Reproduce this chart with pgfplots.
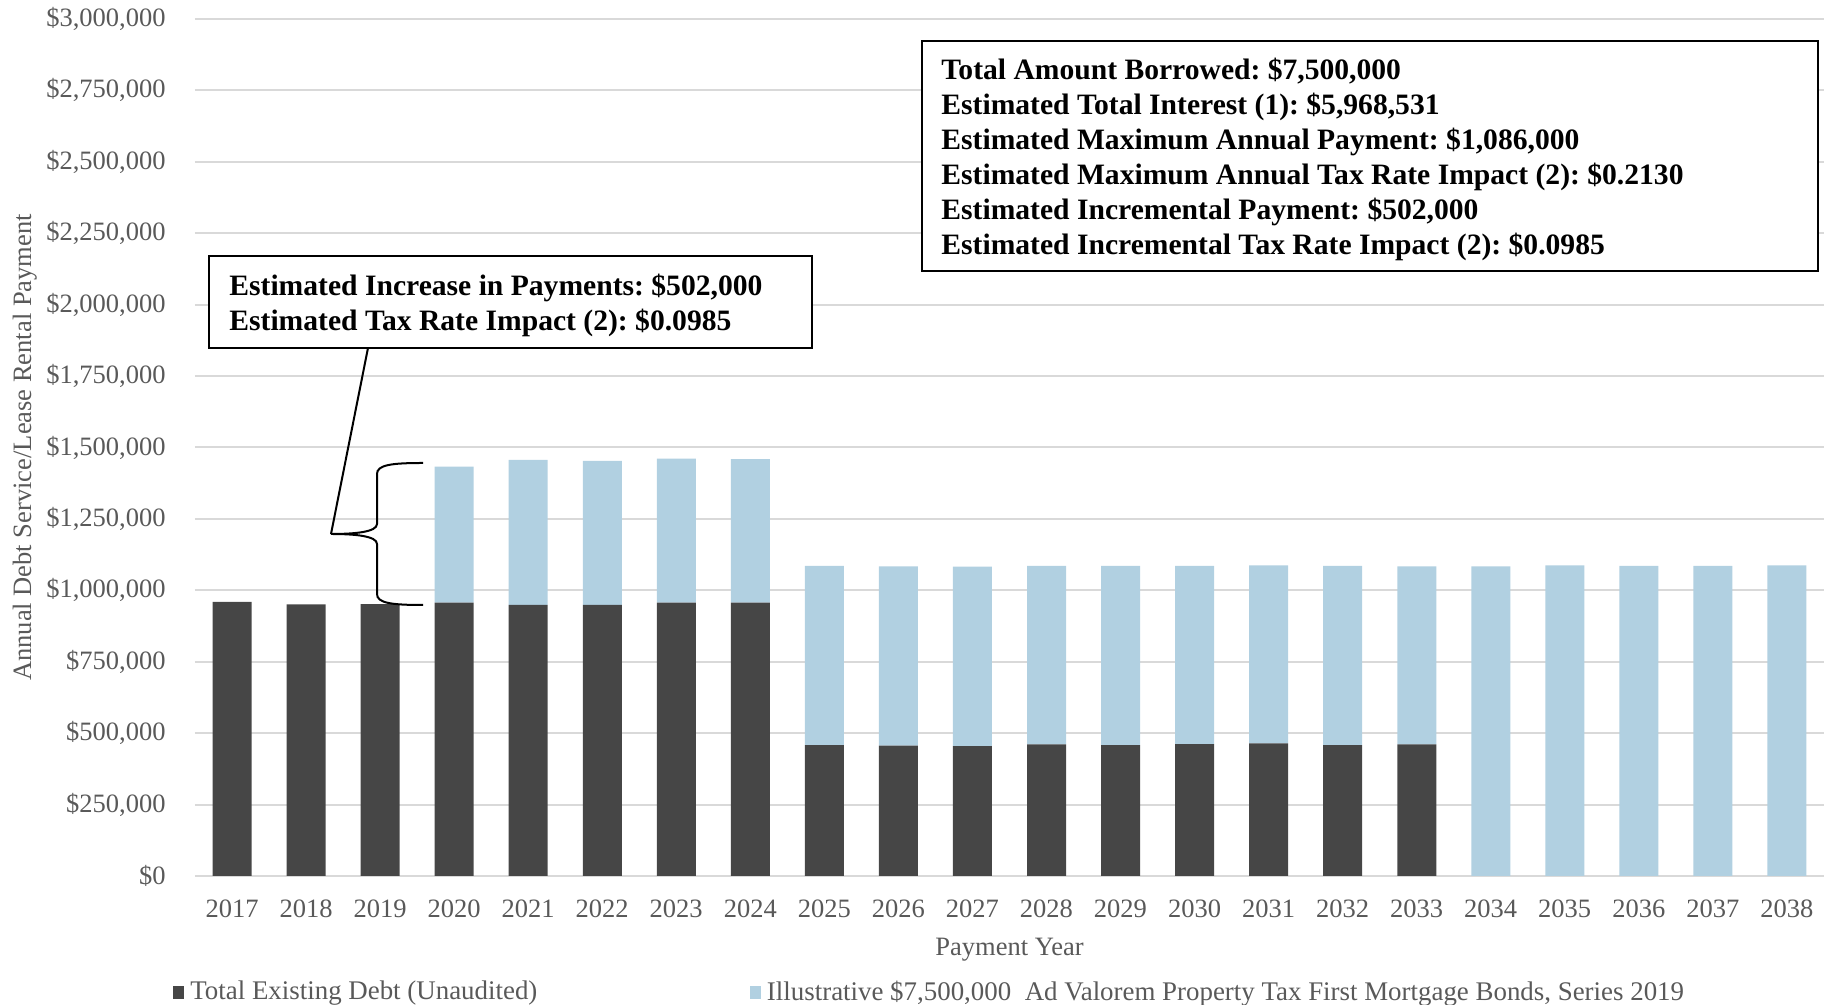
\documentclass[border=0pt]{standalone}
\usepackage{fontspec}
\setmainfont{Liberation Serif}
\usepackage{pgfplots}
\usepackage{pgfplotstable}
\pgfplotsset{compat=1.18}
\frenchspacing
\definecolor{darkbar}{HTML}{464646}
\definecolor{lightbar}{HTML}{B1D0E1}
\definecolor{gridc}{HTML}{D9D9D9}
\definecolor{txt}{HTML}{595959}
\pgfplotsset{sqlegend/.style={legend image code/.code={\fill[##1] (0pt,-3.2pt) rectangle (5.5pt,3.2pt);}}}

\pgfplotstableread{
year existing bonds
2017 960000 0
2018 950500 0
2019 952000 0
2020 956600 476000
2021 949000 507700
2022 949000 504200
2023 956600 504700
2024 956600 502900
2025 458500 627500
2026 456000 628000
2027 455000 628000
2028 460800 625200
2029 458500 627500
2030 462000 624000
2031 464300 622700
2032 458500 627500
2033 460800 623200
2034 0 1084000
2035 0 1087000
2036 0 1086000
2037 0 1086000
2038 0 1087000
}\datatable

\begin{document}
\begin{tikzpicture}
\useasboundingbox (-97.5pt,-64.5pt) rectangle (818pt,438pt);
\begin{axis}[
  at={(0,0)}, anchor=south west,
  scale only axis, width=814.5pt, height=428.5pt,
  ybar stacked, bar width=19.5pt,
  xmin=2016.5, xmax=2038.5, ymin=0, ymax=3000000,
  xtick={2017,...,2038}, ytick={0,250000,...,3000000},
  axis line style={draw=none},
  major tick length=0pt,
  ymajorgrids, grid style={gridc, line width=1pt},
  tick label style={font=\fontsize{13.25}{15}\selectfont, text=txt},
  /pgf/number format/assume math mode=true,
  scaled y ticks=false,
  xticklabel={\pgfmathprintnumber[1000 sep={}]{\tick}},
  yticklabel={\$\pgfmathprintnumber[fixed, precision=0, 1000 sep={,}]{\tick}},
  xticklabel style={anchor=center, inner sep=0pt, yshift=-16.3pt},
  yticklabel style={anchor=east, inner sep=0pt, xshift=-14.5pt},
  xlabel={Payment Year},
  xlabel style={at={(axis description cs:0.5,-0.0865)}, anchor=center, font=\fontsize{13.25}{15}\selectfont, text=txt},
  ylabel={Annual Debt Service/Lease Rental Payment},
  ylabel style={at={(axis description cs:-0.1045,0.5)}, anchor=center, font=\fontsize{13.25}{15}\selectfont, text=txt},
  legend columns=2,
  legend style={draw=none, fill=none, at={(-0.0135,-0.1355)}, anchor=west, inner sep=0pt,
    font=\fontsize{13.45}{15}\selectfont, text=txt,
    nodes={inner sep=0pt},
    /tikz/every odd column/.append style={column sep=3pt},
    /tikz/every even column/.append style={column sep=106.3pt}},
]
\addplot[fill=darkbar, draw=none, sqlegend] table[x=year, y=existing] {\datatable};
\addplot[fill=lightbar, draw=none, sqlegend] table[x=year, y=bonds] {\datatable};
\legend{{Total Existing Debt (Unaudited)}, {Illustrative \$7,500,000\ \ Ad Valorem Property Tax First Mortgage Bonds, Series 2019}}
\end{axis}
% left callout
\draw[line width=1pt, fill=white] (7pt,264pt) rectangle (308.5pt,310pt);
\node[anchor=west, align=left, font=\bfseries\fontsize{14.8}{17.5}\selectfont, inner sep=0pt] at (17pt,285.5pt)
  {Estimated Increase in Payments: \$502,000\\Estimated Tax Rate Impact (2): \$0.0985};
% right box
\draw[line width=1pt, fill=white] (363.5pt,302.5pt) rectangle (811.5pt,417.5pt);
\node[anchor=west, align=left, font=\bfseries\fontsize{14.8}{17.5}\selectfont, inner sep=0pt] at (373pt,358.5pt)
  {Total Amount Borrowed: \$7,500,000\\
   Estimated Total Interest (1): \$5,968,531\\
   Estimated Maximum Annual Payment: \$1,086,000\\
   Estimated Maximum Annual Tax Rate Impact (2): \$0.2130\\
   Estimated Incremental Payment: \$502,000\\
   Estimated Incremental Tax Rate Impact (2): \$0.0985};
% brace and pointer
\draw[line width=1pt] (114pt,206.5pt) .. controls (98pt,206.5pt) and (91pt,205.5pt) .. (91pt,201pt)
  -- (91pt,176pt) .. controls (91pt,172pt) and (80pt,171pt) .. (68pt,171pt)
  .. controls (80pt,171pt) and (91pt,170pt) .. (91pt,166pt)
  -- (91pt,141pt) .. controls (91pt,136.5pt) and (98pt,135.5pt) .. (114pt,135.5pt);
\draw[line width=1pt] (68pt,171pt) -- (86.5pt,264pt);
\end{tikzpicture}
\end{document}
